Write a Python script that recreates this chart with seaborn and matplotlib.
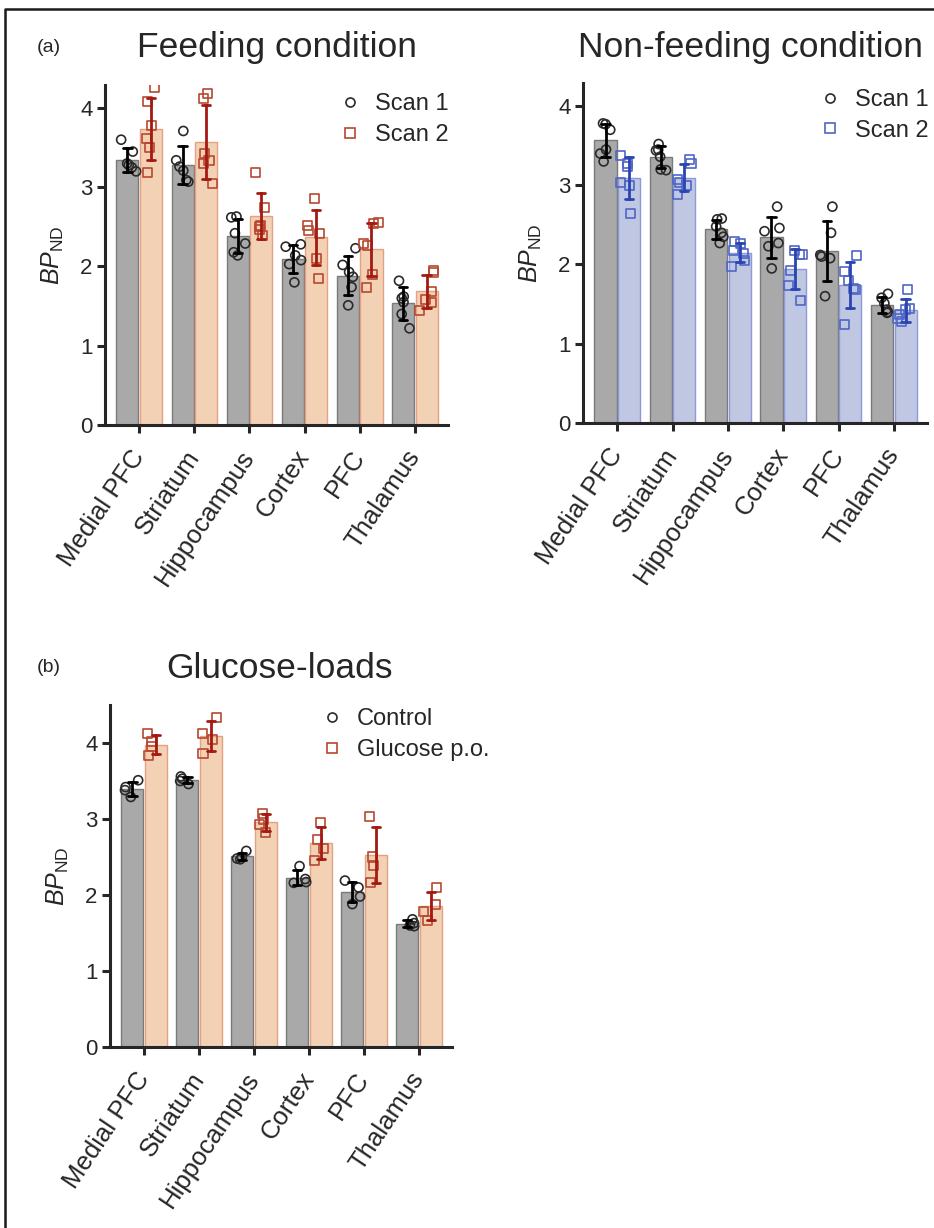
import numpy as np
import pandas as pd
import matplotlib
matplotlib.use("Agg")
import matplotlib.pyplot as plt
from matplotlib.lines import Line2D
import seaborn as sns

regions = ["Medial PFC", "Striatum", "Hippocampus", "Cortex", "PFC", "Thalamus"]

# feeding condition, individual BPnd values (6 animals)
feed_scan1 = [
    [3.60, 3.45, 3.30, 3.25, 3.20, 3.28],
    [3.71, 3.34, 3.26, 3.21, 3.09, 3.07],
    [2.63, 2.62, 2.42, 2.29, 2.18, 2.14],
    [2.28, 2.25, 2.14, 2.08, 2.03, 1.80],
    [2.23, 2.02, 1.93, 1.87, 1.74, 1.51],
    [1.82, 1.62, 1.60, 1.55, 1.40, 1.22],
]
feed_scan2 = [
    [4.26, 4.08, 3.78, 3.61, 3.50, 3.18],
    [4.18, 4.12, 3.42, 3.34, 3.30, 3.05],
    [3.18, 2.74, 2.50, 2.47, 2.39, 2.52],
    [2.86, 2.52, 2.45, 2.42, 2.10, 1.85],
    [2.55, 2.54, 2.29, 2.27, 1.90, 1.74],
    [1.95, 1.93, 1.68, 1.58, 1.54, 1.45],
]

# non-feeding condition
nonfeed_scan1 = [
    [3.78, 3.77, 3.70, 3.45, 3.40, 3.30],
    [3.52, 3.45, 3.44, 3.36, 3.20, 3.19],
    [2.58, 2.57, 2.48, 2.40, 2.35, 2.27],
    [2.73, 2.46, 2.42, 2.27, 2.23, 1.95],
    [2.73, 2.40, 2.10, 2.08, 2.12, 1.60],
    [1.63, 1.58, 1.51, 1.43, 1.40, 1.39],
]
nonfeed_scan2 = [
    [3.38, 3.28, 3.24, 3.03, 3.00, 2.64],
    [3.32, 3.28, 3.07, 3.03, 3.00, 2.88],
    [2.29, 2.27, 2.18, 2.14, 2.05, 1.97],
    [2.18, 2.13, 2.12, 1.93, 1.74, 1.55],
    [2.11, 1.91, 1.80, 1.70, 1.68, 1.24],
    [1.69, 1.44, 1.43, 1.37, 1.32, 1.28],
]

# glucose loads (4 animals)
gl_control = [
    [3.51, 3.42, 3.38, 3.29],
    [3.56, 3.53, 3.50, 3.46],
    [2.58, 2.50, 2.48, 2.47],
    [2.38, 2.21, 2.17, 2.16],
    [2.19, 2.10, 1.98, 1.88],
    [1.68, 1.63, 1.60, 1.59],
]
gl_glucose = [
    [4.12, 4.02, 3.95, 3.83],
    [4.33, 4.13, 4.04, 3.86],
    [3.07, 3.00, 2.93, 2.82],
    [2.96, 2.73, 2.61, 2.46],
    [3.03, 2.50, 2.39, 2.16],
    [2.10, 1.87, 1.78, 1.66],
]

GRAY_FILL, GRAY_EDGE = "#a9a9a9", "#7a7a7a"
ORANGE_FILL, ORANGE_EDGE = "#fcd0aa", "#e4a282"
BLUE_FILL, BLUE_EDGE = "#b9c4e8", "#8c9ad8"
RED_PT, RED_ERR = "#b8482f", "#a31a12"
BLUE_PT, BLUE_ERR = "#4f66c6", "#2b45b0"

sns.set_style("ticks")
plt.rcParams["font.family"] = ["Liberation Sans", "DejaVu Sans"]
plt.rcParams["mathtext.fontset"] = "custom"
plt.rcParams["mathtext.rm"] = "Liberation Sans"
plt.rcParams["mathtext.it"] = "Liberation Sans:italic"

np.random.seed(7)  # only for the horizontal jitter of the dots


def to_long(a, b, names):
    rows = []
    for name, vals in zip(names, [a, b]):
        for reg, pts in zip(regions, vals):
            for v in pts:
                rows.append({"region": reg, "group": name, "bp": v})
    return pd.DataFrame(rows)


def panel(ax, a, b, names, fill2, edge2, pt2, err2, ytop, leg_anchor):
    df = to_long(a, b, names)
    styles = [
        (names[0], GRAY_FILL, GRAY_EDGE, "#2a2a2a", "black", "o"),
        (names[1], fill2, edge2, pt2, err2, "s"),
    ]
    # bars (means)
    for name, fill, edge, ptc, errc, mk in styles:
        sub = df[df["group"] == name]
        sns.barplot(data=sub, x="region", y="bp", hue="group", hue_order=names,
                    order=regions, palette={names[0]: fill, names[1]: fill},
                    errorbar=None, width=0.85, gap=0.06, dodge=True,
                    edgecolor=edge, linewidth=1.0, ax=ax, legend=False)
    # individual animals, hollow markers
    for name, fill, edge, ptc, errc, mk in styles:
        sub = df[df["group"] == name]
        n_before = len(ax.collections)
        sns.stripplot(data=sub, x="region", y="bp", hue="group", hue_order=names,
                      order=regions, palette={names[0]: ptc, names[1]: ptc},
                      dodge=True, jitter=0.3, marker=mk, size=6.5, ax=ax,
                      legend=False, zorder=3)
        for c in ax.collections[n_before:]:
            c.set_facecolor("none")
            c.set_edgecolor(ptc)
            c.set_linewidth(1.2)
    # mean +/- SD error bars
    for name, fill, edge, ptc, errc, mk in styles:
        sub = df[df["group"] == name]
        sns.barplot(data=sub, x="region", y="bp", hue="group", hue_order=names,
                    order=regions, palette={names[0]: "none", names[1]: "none"},
                    errorbar="sd", capsize=0.3, width=0.85, gap=0.06, dodge=True,
                    fill=False, linewidth=0,
                    err_kws={"color": errc, "linewidth": 2.0, "zorder": 4},
                    ax=ax, legend=False)

    ax.set_ylim(0, ytop)
    ax.set_xlim(-0.62, 5.6)
    ax.set_yticks([0, 1, 2, 3, 4])
    ax.set_xlabel("")
    ax.set_ylabel(r"$\mathit{BP}_{\mathrm{ND}}$", fontsize=18, labelpad=10)
    sns.despine(ax=ax)
    for s in ["left", "bottom"]:
        ax.spines[s].set_linewidth(2.2)
    ax.tick_params(axis="both", width=2.2, length=6)
    ax.tick_params(axis="y", labelsize=16, pad=3)
    ax.tick_params(axis="x", labelsize=18.5, pad=14)
    plt.setp(ax.get_xticklabels(), rotation=56, ha="right", va="center",
             rotation_mode="anchor")

    handles = [
        Line2D([], [], ls="none", marker="o", mfc="none", mec="#2a2a2a", ms=6.5, mew=1.2),
        Line2D([], [], ls="none", marker="s", mfc="none", mec=pt2, ms=6.5, mew=1.2),
    ]
    ax.legend(handles, names, loc="upper left", bbox_to_anchor=leg_anchor,
              frameon=False, fontsize=17, handlelength=0.6, handletextpad=0.75,
              borderpad=0.0, borderaxespad=0.0, labelspacing=0.38)


W, H = 934, 1228
fig = plt.figure(figsize=(W / 100, H / 100), dpi=100)

ax1 = fig.add_axes([105 / W, 1 - 425 / H, 343 / W, 340 / H])
ax2 = fig.add_axes([583 / W, 1 - 423 / H, 344 / W, 340 / H])
ax3 = fig.add_axes([110 / W, 1 - 1047 / H, 342 / W, 342 / H])

panel(ax1, feed_scan1, feed_scan2, ["Scan 1", "Scan 2"],
      ORANGE_FILL, ORANGE_EDGE, RED_PT, RED_ERR, 4.29, (0.694, 0.975))
panel(ax2, nonfeed_scan1, nonfeed_scan2, ["Scan 1", "Scan 2"],
      BLUE_FILL, BLUE_EDGE, BLUE_PT, BLUE_ERR, 4.29, (0.698, 0.983))
panel(ax3, gl_control, gl_glucose, ["Control", "Glucose p.o."],
      ORANGE_FILL, ORANGE_EDGE, RED_PT, RED_ERR, 4.5, (0.629, 0.99))

fig.text(277 / W, 1 - 47 / H, "Feeding condition", fontsize=25.5, ha="center", va="center")
fig.text(750 / W, 1 - 47 / H, "Non-feeding condition", fontsize=25.5, ha="center", va="center")
fig.text(280 / W, 1 - 668 / H, "Glucose-loads", fontsize=25.5, ha="center", va="center")
fig.text(37 / W, 1 - 47 / H, "(a)", fontsize=14, ha="left", va="center")
fig.text(37 / W, 1 - 668 / H, "(b)", fontsize=14, ha="left", va="center")

# outer frame (left and top edges visible)
fig.add_artist(Line2D([5 / W, 5 / W, 1.0], [0.0, 1 - 9 / H, 1 - 9 / H],
                      transform=fig.transFigure, color="#1a1a1a", lw=1.8))

fig.savefig("out.png", dpi=100)
